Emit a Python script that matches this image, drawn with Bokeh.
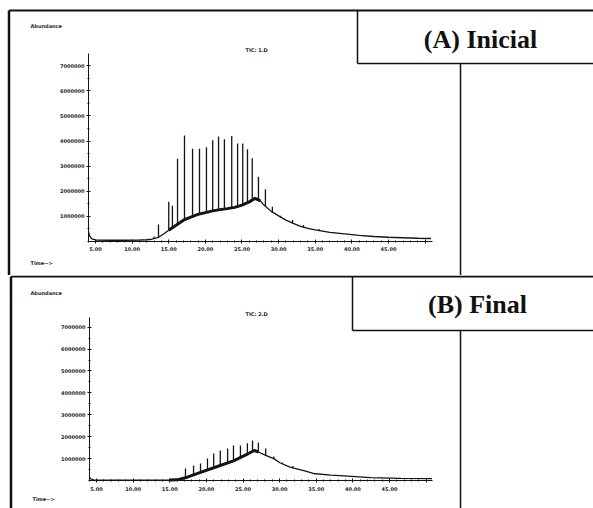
from bokeh.plotting import figure
from bokeh.models import Range1d, FixedTicker
from bokeh.layouts import column
from bokeh.embed import file_html
from bokeh.resources import INLINE
from bokeh.core.properties import value

# ---------------- data (time in min, abundance in counts) ----------------
x_ticks = [5, 10, 15, 20, 25, 30, 35, 40, 45, 50]
x_tick_labels = ["5.00", "10.00", "15.00", "20.00", "25.00", "30.00", "35.00", "40.00", "45.00", ""]
y_ticks = [1000000, 2000000, 3000000, 4000000, 5000000, 6000000, 7000000]
y_tick_labels = ["1000000", "2000000", "3000000", "4000000", "5000000", "6000000", "7000000"]

# Panel A (Inicial): unresolved hump envelope
a_env_t = [4.04, 4.2, 4.5, 5.0, 7.0, 9.0, 11.0, 12.0, 12.7, 13.5, 14.3, 15.0, 16.0, 17.0, 18.0,
           19.0, 20.0, 21.0, 22.0, 23.0, 24.0, 25.0, 26.0, 26.8, 27.5, 28.0, 29.0, 30.0, 31.0,
           32.0, 33.0, 34.0, 35.0, 37.0, 39.0, 41.0, 43.0, 45.0, 47.0, 49.0, 50.8]
a_env_v = [380000, 220000, 100000, 60000, 50000, 50000, 60000, 70000, 90000, 150000, 300000,
           450000, 650000, 850000, 970000, 1080000, 1150000, 1220000, 1270000, 1310000, 1360000,
           1450000, 1580000, 1720000, 1620000, 1450000, 1200000, 1020000, 850000, 720000, 600000,
           520000, 460000, 360000, 300000, 240000, 200000, 170000, 150000, 130000, 120000]
# Panel A resolved peaks
a_pk_t = [13.0, 13.6, 15.0, 15.5, 16.2, 17.15, 18.25, 19.2, 20.15, 21.0, 21.8, 22.6, 23.6, 24.4,
          25.1, 25.75, 26.4, 27.25, 28.2, 29.15, 30.25, 31.9, 33.4, 35.5]
a_pk_top = [200000, 680000, 1580000, 1420000, 3300000, 4220000, 3700000, 3700000, 3750000,
            4030000, 4180000, 4070000, 4200000, 3900000, 3900000, 3680000, 3320000, 2580000,
            2080000, 1380000, 1030000, 860000, 660000, 500000]
a_pk_base = [110000, 160000, 450000, 550000, 700000, 870000, 1000000, 1090000, 1160000, 1220000,
             1260000, 1290000, 1340000, 1400000, 1460000, 1550000, 1650000, 1660000, 1400000,
             1170000, 980000, 730000, 570000, 440000]

# Panel B (Final): unresolved hump envelope
b_env_t = [4.04, 4.2, 4.6, 5.0, 8.0, 12.0, 15.0, 16.0, 17.4, 19.2, 21.5, 23.7, 25.6, 26.5, 27.1,
           28.1, 29.2, 30.1, 31.5, 33.3, 34.6, 37.0, 39.3, 42.4, 46.5, 50.8]
b_env_v = [160000, 80000, 30000, 20000, 20000, 20000, 20000, 30000, 150000, 370000, 640000,
           900000, 1200000, 1370000, 1300000, 1150000, 1000000, 800000, 600000, 450000, 320000,
           250000, 200000, 130000, 100000, 90000]
# Panel B resolved peaks
b_pk_t = [17.15, 18.25, 19.2, 20.15, 21.0, 21.9, 22.9, 23.7, 24.65, 25.6, 26.3, 27.1, 28.1, 29.2,
          30.4, 31.8]
b_pk_top = [550000, 680000, 780000, 1000000, 1230000, 1370000, 1460000, 1600000, 1600000,
            1700000, 1830000, 1740000, 1460000, 1100000, 820000, 660000]
b_pk_base = [130000, 250000, 370000, 480000, 580000, 690000, 800000, 900000, 1050000, 1200000,
             1330000, 1300000, 1150000, 1000000, 760000, 570000]

W = 593
INK = "#141414"
SMALL = "5px"


def make_panel(H, x_range, y_range, y_axis_top, x_axis_end, env_t, env_v, pk_t, pk_top, pk_base,
               title, title_xy, box_left, box_top, box_bottom, border_x, tic_text, tic_xy,
               abund_xy, time_xy):
    p = figure(width=W, height=H, output_backend="svg", toolbar_location=None,
               x_range=Range1d(*x_range), y_range=Range1d(*y_range),
               min_border=0, min_border_left=0, min_border_right=0,
               min_border_top=0, min_border_bottom=0)
    p.extra_x_ranges = {"px": Range1d(0, W)}
    p.extra_y_ranges = {"px": Range1d(H, 0)}
    p.grid.visible = False
    p.outline_line_color = None
    p.background_fill_color = "white"
    p.border_fill_color = "white"

    # axes drawn at the chromatogram origin
    xa = p.xaxis[0]
    ya = p.yaxis[0]
    xa.fixed_location = 0
    ya.fixed_location = 4.04
    xa.bounds = (4.04, x_axis_end)
    ya.bounds = (0, y_axis_top)
    minor_x = [float(m) for m in range(4, 51)]
    xa.ticker = FixedTicker(ticks=x_ticks, minor_ticks=minor_x)
    xa.major_label_overrides = {t: l for t, l in zip(x_ticks, x_tick_labels)}
    minor_y = [i * 500000 for i in range(0, 15)]
    ya.ticker = FixedTicker(ticks=y_ticks, minor_ticks=minor_y)
    ya.major_label_overrides = {t: l for t, l in zip(y_ticks, y_tick_labels)}
    for ax in (xa, ya):
        ax.axis_line_color = INK
        ax.axis_line_width = 1
        ax.major_tick_line_color = INK
        ax.minor_tick_line_color = INK
        ax.major_tick_in = 2
        ax.major_tick_out = 2
        ax.minor_tick_in = 1
        ax.minor_tick_out = 1
        ax.major_label_text_font = "DejaVu Sans"
        ax.major_label_text_font_size = SMALL
        ax.major_label_text_font_style = "bold"
        ax.major_label_text_color = "#262626"
    xa.major_label_standoff = 4
    ya.major_label_standoff = 2

    # trace
    p.line(env_t, env_v, line_color=INK, line_width=1.3)
    thick_t = [t for t in env_t if 15.0 <= t <= 27.5]
    thick_v = [v for t, v in zip(env_t, env_v) if 15.0 <= t <= 27.5]
    p.line(thick_t, thick_v, line_color=INK, line_width=3)
    p.segment(x0=pk_t, y0=pk_base, x1=pk_t, y1=pk_top, line_color=INK, line_width=1.3)

    # figure frame decorations (pixel coordinates)
    kw = dict(x_range_name="px", y_range_name="px", line_color="#111111")
    p.segment(x0=[border_x], y0=[box_top], x1=[border_x], y1=[H], line_width=2.5, **kw)
    p.segment(x0=[border_x], y0=[box_top], x1=[W], y1=[box_top], line_width=2, **kw)
    p.segment(x0=[box_left], y0=[box_top], x1=[box_left], y1=[box_bottom], line_width=1.5, **kw)
    p.segment(x0=[box_left], y0=[box_bottom], x1=[W], y1=[box_bottom], line_width=1.5, **kw)
    p.segment(x0=[460], y0=[box_bottom], x1=[460], y1=[H], line_width=1.5, **kw)

    p.text(x=[title_xy[0]], y=[title_xy[1]], text=[title], x_range_name="px", y_range_name="px",
           text_font=value("Liberation Serif"), text_font_style="bold", text_font_size="26px",
           text_align="center", text_baseline="middle", text_color="#111111")
    small = dict(x_range_name="px", y_range_name="px", text_font=value("DejaVu Sans"),
                 text_font_size=SMALL, text_font_style="bold", text_baseline="middle",
                 text_color="#262626")
    p.text(x=[abund_xy[0]], y=[abund_xy[1]], text=["Abundance"], text_align="left", **small)
    p.text(x=[time_xy[0]], y=[time_xy[1]], text=["Time-->"], text_align="left", **small)
    p.text(x=[tic_xy[0]], y=[tic_xy[1]], text=[tic_text], text_align="left", **small)
    return p


HA = 275
pA = make_panel(HA, (-7.969, 72.99), (-1354600, 9601600), 7490000, 51.0,
                a_env_t, a_env_v, a_pk_t, a_pk_top, a_pk_base,
                "(A) Inicial", (480, 39), 357, 10, 63, 8.5, "TIC: 1.D", (245, 49), (30, 25),
                (30, 262))
HB = 233
pB = make_panel(HB, (-8.106, 72.85), (-1278500, 9360700), 7440000, 50.87,
                b_env_t, b_env_v, b_pk_t, b_pk_top, b_pk_base,
                "(B) Final", (477, 29), 352, 1, 55, 10.5, "TIC: 2.D", (245, 38), (30, 17),
                (32, 223))

layout = column(pA, pB, spacing=0)
open("out.html", "w").write(file_html(layout, INLINE))
